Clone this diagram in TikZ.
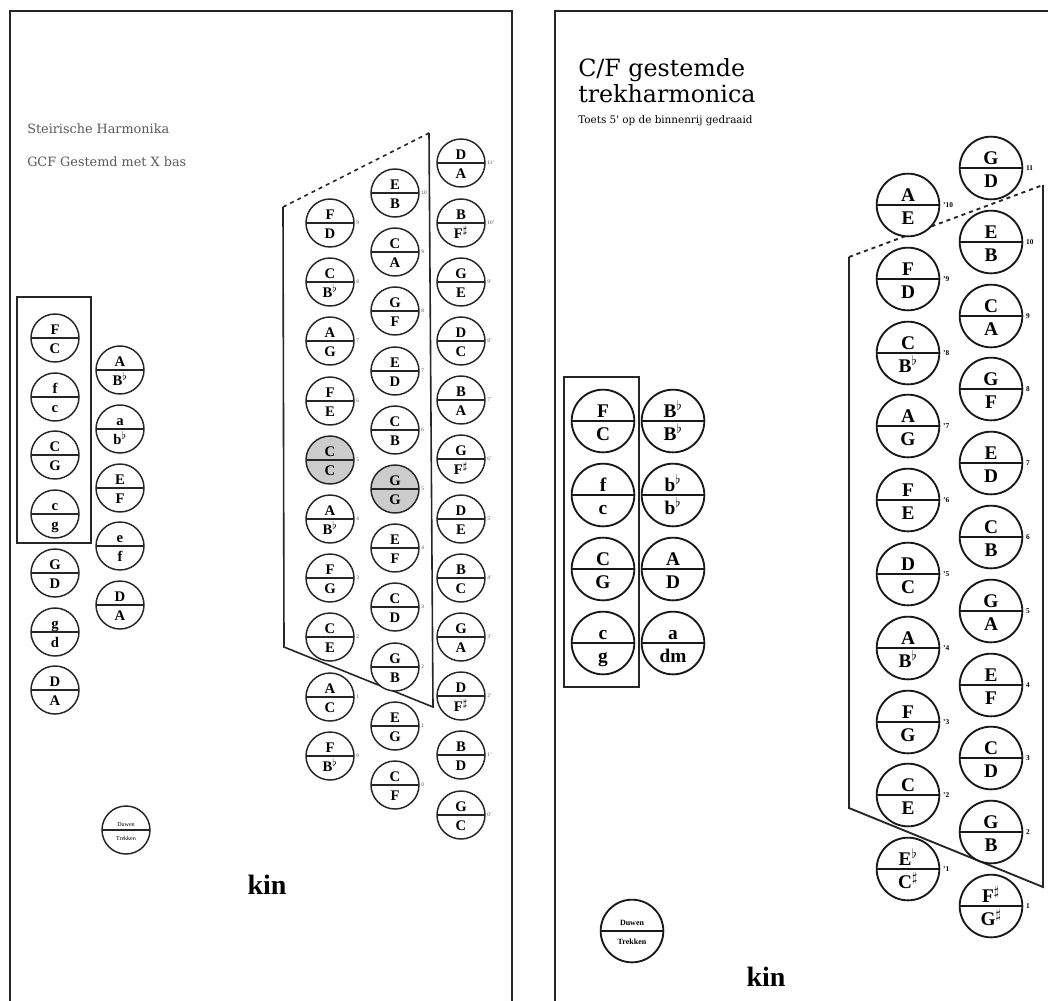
\documentclass[tikz,border=0pt]{standalone}
\usepackage{fontspec}
\setmainfont{Liberation Serif}
\newfontfamily\titelfont{DejaVu Serif}
\usetikzlibrary{positioning}

\newcommand{\mol}{$^\flat$}
\newcommand{\kruis}{$^\sharp$}
% toets: [opties], naam, x, y, boven, onder, nummer
\newcommand{\toets}[7][]{%
  \node[knop,#1] (#2) at (#3,#4) {};
  \node[boven] (#2-b) at (#2.center) {#5};
  \node[onder] (#2-o) at (#2.center) {#6};
  \node[nummer] (#2-n) at (#2.east) {#7};}

\begin{document}
\begin{tikzpicture}[x=0.75pt, y=-0.75pt,
    rand/.style={draw=black!85, line width=1.5pt},
    trap/.style={draw=black!85, line width=1.2pt},
    grijs/.style={fill=black!20},
    klein/.style={
      knop/.style={circle, draw=black!85, line width=1.1pt, fill=white, inner sep=0pt, minimum size=36pt,
        path picture={\draw[black!85, line width=.8pt] (path picture bounding box.west) -- (path picture bounding box.east);}},
      boven/.style={anchor=base, inner sep=0pt, yshift=2.5pt, font=\fontsize{11}{11}\selectfont\bfseries},
      onder/.style={anchor=base, inner sep=0pt, yshift=-11.5pt, font=\fontsize{11}{11}\selectfont\bfseries},
      nummer/.style={anchor=west, inner sep=1pt, font=\fontsize{4}{4}\selectfont, text=black!70}},
    groot/.style={
      knop/.style={circle, draw=black!90, line width=1.4pt, fill=white, inner sep=0pt, minimum size=47pt,
        path picture={\draw[black!90, line width=1pt] (path picture bounding box.west) -- (path picture bounding box.east);}},
      boven/.style={anchor=base, inner sep=0pt, yshift=3pt, font=\fontsize{14.5}{14.5}\selectfont\bfseries},
      onder/.style={anchor=base, inner sep=0pt, yshift=-14.5pt, font=\fontsize{14.5}{14.5}\selectfont\bfseries},
      nummer/.style={anchor=west, inner sep=2pt, font=\fontsize{5.5}{5.5}\selectfont\bfseries}},
    titel/.style={anchor=base west, inner sep=0pt, font=\titelfont}]

    \clip (0,0) rectangle (1048,1000);
    \fill[white] (0,0) rectangle (1048,1000);

    % bladen
    \draw[rand] (10,11) rectangle (512,1012);
    \draw[rand] (555,11) rectangle (1060,1012);

    %%%%%%%%%% links: GCF
    \node[titel, font=\titelfont\fontsize{9.6}{11}\selectfont, text=black!65] (stijr) at (27,133) {Steirische Harmonika};
    \node[titel, font=\titelfont\fontsize{9.6}{11}\selectfont, text=black!65] (gcf) at (27,166) {GCF Gestemd met X bas};

    \coordinate (lb) at (283,207);
    \coordinate (rb) at (429,133);
    \coordinate (ro) at (433,707);
    \coordinate (lo) at (284,647);
    \draw[trap, dashed] (lb) -- (rb);
    \draw[trap] (rb) -- (ro) -- (lo) -- (lb);
    \draw[trap] (17,297) rectangle (91,543);

    \begin{scope}[klein]
    % bas
    \toets{lb1}{55}{338}{F}{C}{}
    \toets{lb2}{55}{397}{f}{c}{}
    \toets{lb3}{55}{455}{C}{G}{}
    \toets{lb4}{55}{514}{c}{g}{}
    \toets{lb5}{55}{573}{G}{D}{}
    \toets{lb6}{55}{632}{g}{d}{}
    \toets{lb7}{55}{690}{D}{A}{}
    \toets{lb8}{120}{370}{A}{B\mol}{}
    \toets{lb9}{120}{429}{a}{b\mol}{}
    \toets{lb10}{120}{488}{E}{F}{}
    \toets{lb11}{120}{546}{e}{f}{}
    \toets{lb12}{120}{605}{D}{A}{}
    % buitenste rij
    \toets{lu9}{330}{223}{F}{D}{9}
    \toets{lu8}{330}{282}{C}{B\mol}{8}
    \toets{lu7}{330}{341}{A}{G}{7}
    \toets{lu6}{330}{401}{F}{E}{6}
    \toets[grijs]{lu5}{330}{460}{C}{C}{5}
    \toets{lu4}{330}{519}{A}{B\mol}{4}
    \toets{lu3}{330}{578}{F}{G}{3}
    \toets{lu2}{330}{637}{C}{E}{2}
    \toets{lu1}{330}{697}{A}{C}{1}
    \toets{lu0}{330}{756}{F}{B\mol}{0}
    % middelste rij
    \toets{lm10}{395}{193}{E}{B}{10}
    \toets{lm9}{395}{252}{C}{A}{9}
    \toets{lm8}{395}{311}{G}{F}{8}
    \toets{lm7}{395}{371}{E}{D}{7}
    \toets{lm6}{395}{430}{C}{B}{6}
    \toets[grijs]{lm5}{395}{489}{G}{G}{5}
    \toets{lm4}{395}{548}{E}{F}{4}
    \toets{lm3}{395}{607}{C}{D}{3}
    \toets{lm2}{395}{667}{G}{B}{2}
    \toets{lm1}{395}{726}{E}{G}{1}
    \toets{lm0}{395}{785}{C}{F}{0}
    % binnenste rij
    \toets{li11}{461}{163}{D}{A}{11'}
    \toets{li10}{461}{223}{B}{F\kruis}{10'}
    \toets{li9}{461}{282}{G}{E}{9'}
    \toets{li8}{461}{341}{D}{C}{8'}
    \toets{li7}{461}{400}{B}{A}{7'}
    \toets{li6}{461}{459}{G}{F\kruis}{6'}
    \toets{li5}{461}{519}{D}{E}{5'}
    \toets{li4}{461}{578}{B}{C}{4'}
    \toets{li3}{461}{637}{G}{A}{3'}
    \toets{li2}{461}{696}{D}{F\kruis}{2'}
    \toets{li1}{461}{755}{B}{D}{1'}
    \toets{li0}{461}{815}{G}{C}{0'}
    % legenda
    \node[knop] (leg-l) at (126,830) {};
    \node[anchor=base, inner sep=0pt, yshift=3pt, font=\fontsize{4.5}{5}\selectfont] (leg-l-b) at (leg-l.center) {Duwen};
    \node[anchor=base, inner sep=0pt, yshift=-8pt, font=\fontsize{4.5}{5}\selectfont] (leg-l-o) at (leg-l.center) {Trekken};
    \end{scope}

    \node[anchor=base, font=\fontsize{21}{21}\selectfont\bfseries] (kin-l) at (267,894) {kin};

    %%%%%%%%%% rechts: C/F
    \node[titel, font=\titelfont\fontsize{17.8}{20}\selectfont] (cf1) at (578,76) {C/F gestemde};
    \node[titel, font=\titelfont\fontsize{17.8}{20}\selectfont] (cf2) at (578,102) {trekharmonica};
    \node[titel, font=\titelfont\fontsize{7.8}{9}\selectfont] (cf3) at (578,123) {Toets 5' op de binnenrij gedraaid};

    \coordinate (rlb) at (849,257);
    \coordinate (rrb) at (1043,185);
    \coordinate (rro) at (1043,887);
    \coordinate (rlo) at (849,808);
    \draw[trap, line width=1.4pt, dashed] (rlb) -- (rrb);
    \draw[trap, line width=1.4pt] (rrb) -- (rro) -- (rlo) -- (rlb);
    \draw[trap] (564,377) rectangle (639,687);

    \begin{scope}[groot]
    % bas
    \toets{rb1}{603}{421}{F}{C}{}
    \toets{rb2}{603}{495}{f}{c}{}
    \toets{rb3}{603}{569}{C}{G}{}
    \toets{rb4}{603}{643}{c}{g}{}
    \toets{rb5}{673}{421}{B\mol}{B\mol}{}
    \toets{rb6}{673}{495}{b\mol}{b\mol}{}
    \toets{rb7}{673}{569}{A}{D}{}
    \toets{rb8}{673}{643}{a}{dm}{}
    % buitenste rij
    \toets{ru10}{908}{205}{A}{E}{'10}
    \toets{ru9}{908}{279}{F}{D}{'9}
    \toets{ru8}{908}{353}{C}{B\mol}{'8}
    \toets{ru7}{908}{426}{A}{G}{'7}
    \toets{ru6}{908}{500}{F}{E}{'6}
    \toets{ru5}{908}{574}{D}{C}{'5}
    \toets{ru4}{908}{648}{A}{B\mol}{'4}
    \toets{ru3}{908}{722}{F}{G}{'3}
    \toets{ru2}{908}{795}{C}{E}{'2}
    \toets{ru1}{908}{869}{E\mol}{C\kruis}{'1}
    % binnenste rij
    \toets{ri11}{991}{168}{G}{D}{11}
    \toets{ri10}{991}{242}{E}{B}{10}
    \toets{ri9}{991}{316}{C}{A}{9}
    \toets{ri8}{991}{389}{G}{F}{8}
    \toets{ri7}{991}{463}{E}{D}{7}
    \toets{ri6}{991}{537}{C}{B}{6}
    \toets{ri5}{991}{611}{G}{A}{5}
    \toets{ri4}{991}{685}{E}{F}{4}
    \toets{ri3}{991}{758}{C}{D}{3}
    \toets{ri2}{991}{832}{G}{B}{2}
    \toets{ri1}{991}{906}{F\kruis}{G\kruis}{1}
    % legenda
    \node[knop] (leg-r) at (632,931) {};
    \node[anchor=base, inner sep=0pt, yshift=4pt, font=\fontsize{6}{7}\selectfont\bfseries] (leg-r-b) at (leg-r.center) {Duwen};
    \node[anchor=base, inner sep=0pt, yshift=-10pt, font=\fontsize{6}{7}\selectfont\bfseries] (leg-r-o) at (leg-r.center) {Trekken};
    \end{scope}

    \node[anchor=base, font=\fontsize{21}{21}\selectfont\bfseries] (kin-r) at (766,986) {kin};
\end{tikzpicture}
\end{document}
